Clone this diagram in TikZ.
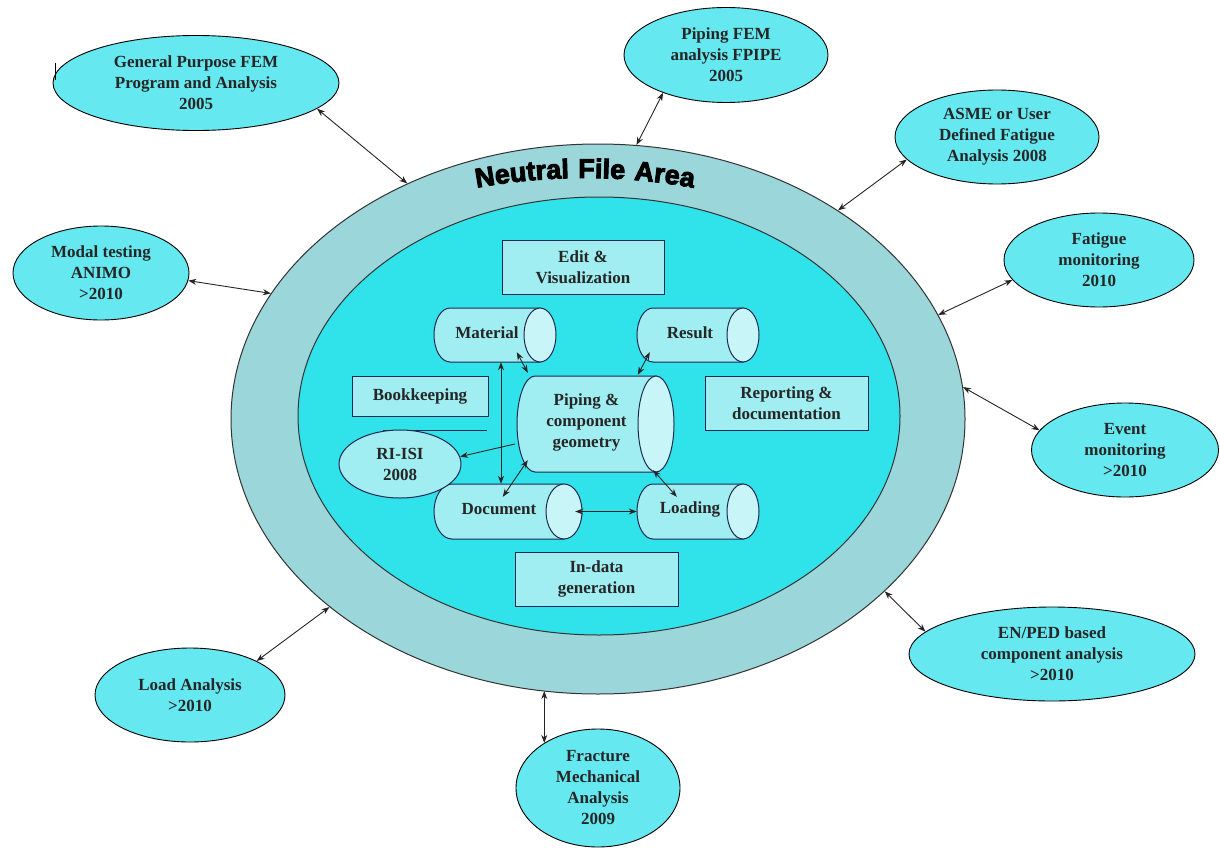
\documentclass[tikz,border=0pt]{standalone}
\usepackage{fontspec}
\setmainfont{Liberation Serif}
\newfontfamily\nfafont{Liberation Sans}[LetterSpace=6,BoldFeatures={FakeBold=3.5}]
\usetikzlibrary{shapes.geometric,arrows.meta,calc,decorations.text}
\definecolor{satfill}{HTML}{66E8F0}
\definecolor{ringfill}{HTML}{9AD6DA}
\definecolor{corefill}{HTML}{30E2EA}
\definecolor{boxfill}{HTML}{A0EEF2}
\definecolor{endfill}{HTML}{C8F6F8}
\definecolor{navy}{HTML}{1C2850}
\tikzset{
  lbl/.style={font=\bfseries\fontsize{17}{21}\selectfont, align=center, text=black!85},
  sat/.style={ellipse, draw=black, line width=0.9pt, fill=satfill, inner sep=0pt, lbl},
  boxnode/.style={rectangle, draw=navy, line width=1pt, fill=boxfill, inner sep=0pt, lbl},
  cylbody/.style={draw=navy, line width=1pt, fill=boxfill},
  cylend/.style={draw=navy, line width=1pt, fill=endfill},
  dbl/.style={{Stealth[length=8pt,width=6pt]}-{Stealth[length=8pt,width=6pt]}, line width=0.9pt, draw=black!85},
  sgl/.style={-{Stealth[length=8pt,width=6pt]}, line width=0.9pt, draw=black!85},
}
% #1 name, #2 L, #3 T, #4 R, #5 B, #6 end radius, #7 text
\newcommand\mycyl[7]{%
  \filldraw[cylbody] ({#4-#6},#3) -- ({#2+#6},#3)
     arc[start angle=270, end angle=90, x radius=#6, y radius={(#5-#3)/2}]
     -- ({#4-#6},#5) -- cycle;
  \filldraw[cylend] ({#4-#6},{(#3+#5)/2}) ellipse[x radius=#6, y radius={(#5-#3)/2}];
  \node[inner sep=0pt, minimum width={#4-#2}, minimum height={#5-#3}] (#1) at ({(#2+#4)/2},{(#3+#5)/2}) {};
  \node[lbl] (#1t) at ({(#2+#4-#6)/2},{(#3+#5)/2-2}) {#7};
}
\begin{document}
\begin{tikzpicture}[x=1pt,y=-1pt]
\useasboundingbox[fill=white] (0,0) rectangle (1220,848);

% rings
\node[ellipse, draw=black!80, line width=1pt, fill=ringfill, minimum width=734, minimum height=550, inner sep=0pt] (ring) at (598,419) {};
\node[ellipse, draw=black!80, line width=1pt, fill=corefill, minimum width=602, minimum height=438, inner sep=0pt] (core) at (599,416) {};

% curved title
\coordinate (nfa0) at (429.7,198.4);
\path[decorate, decoration={text along path, text align=center,
  text={|\nfafont\bfseries\fontsize{27}{27}\selectfont|Neutral File Area}}]
  (nfa0) arc[start angle=-105, end angle=-75, radius=600];

% boxes
\node[boxnode, minimum width=162, minimum height=54] (edit) at (583,267) {Edit \&\\Visualization};
\node[boxnode, minimum width=136, minimum height=40] (book) at (420,396) {Bookkeeping};
\node[boxnode, minimum width=163, minimum height=54] (rep) at (786.5,403) {Reporting \&\\documentation};
\node[boxnode, minimum width=163, minimum height=54] (indata) at (596.5,579) {In-data\\generation};

\draw[navy, line width=1pt] (383,430) -- (487,430);

% cylinders
\mycyl{mat}{434}{308}{556}{362}{16}{Material}
\mycyl{res}{637}{308}{759}{362}{16}{Result}
\mycyl{pip}{517}{376}{674}{472}{18}{Piping \&\\component\\geometry}
\mycyl{doc}{434}{484}{582}{539}{18}{Document}
\mycyl{load}{637}{484}{759}{539}{16}{Loading}

\node[ellipse, draw=navy, line width=1pt, fill=boxfill, inner sep=0pt, lbl, minimum width=122, minimum height=68] (riisi) at (400,464) {RI-ISI\\2008};

% inner connectors
\coordinate (vx) at (501,0);
\draw[dbl] (vx |- mat.south) -- (vx |- doc.north);
\draw[dbl] ($(mat.south west)+(83,-10)$) -- ($(pip.north west)+(11,-3)$);
\draw[dbl] ($(res.south west)+(13,-10)$) -- ($(pip.north west)+(121,-1)$);
\draw[sgl] ($(pip.west)+(-2,20)$) -- (riisi.7);
\draw[dbl] ($(pip.south west)+(11,-12)$) -- ($(doc.north west)+(69,13)$);
\draw[dbl] ($(doc.east)+(-7,0)$) -- (load.west);
\draw[dbl] ($(pip.south east)+(-21,-2)$) -- ($(load.north west)+(40,13)$);

% satellites
\node[sat, minimum width=286, minimum height=95] (gp) at (196,83) {General Purpose FEM\\Program and Analysis\\2005};
\node[sat, minimum width=176, minimum height=94] (modal) at (101,273) {Modal testing\\ANIMO\\>2010};
\node[sat, minimum width=204, minimum height=95] (pfem) at (726,55) {Piping FEM\\analysis FPIPE\\2005};
\node[sat, minimum width=204, minimum height=94] (asme) at (997,137) {ASME or User\\Defined Fatigue\\Analysis 2008};
\node[sat, minimum width=190, minimum height=94] (fat) at (1099,260) {Fatigue\\monitoring\\2010};
\node[sat, minimum width=187, minimum height=94] (event) at (1125,450) {Event\\monitoring\\>2010};
\node[sat, minimum width=286, minimum height=94] (enped) at (1052,654) {EN/PED based\\component analysis\\>2010};
\node[sat, minimum width=190, minimum height=94] (load2) at (190,695) {Load Analysis\\>2010};
\node[sat, minimum width=164, minimum height=118] (frac) at (598,788) {Fracture\\Mechanical\\Analysis\\2009};

\draw[line width=1pt] (55,63) -- (55,80);

% outer connectors
\draw[dbl] (gp.-12) -- (ring.129);
\draw[dbl] (modal.-5) -- (ring.159);
\draw[dbl] (pfem.211) -- (ring.82);
\draw[dbl] (asme.194) -- (ring.41);
\draw[dbl] (fat.193) -- (ring.17);
\draw[dbl] (event.167) -- (ring.5);
\draw[dbl] (enped.170) -- (ring.-31);
\draw[dbl] (load2.27) -- (ring.215);
\draw[dbl] (frac.140) -- (frac.140 |- ring.258);
\end{tikzpicture}
\end{document}
